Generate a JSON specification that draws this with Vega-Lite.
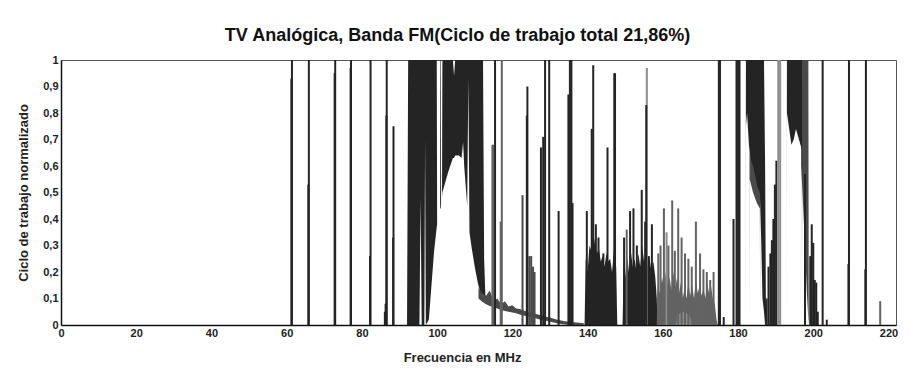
{
  "$schema": "https://vega.github.io/schema/vega-lite/v6.json",
  "autosize": {"type": "none"},
  "padding": {"left": 61, "top": 60, "right": 21, "bottom": 47},
  "width": 835,
  "height": 265,
  "background": "white",
  "config": {
    "font": "Liberation Sans",
    "view": {"stroke": "#555555", "strokeWidth": 1},
    "locale": {"number": {"decimal": ",", "thousands": ".", "grouping": [3], "currency": ["", " €"]}}
  },
  "title": {
    "text": "TV Analógica, Banda FM(Ciclo de trabajo total 21,86%)",
    "font": "Liberation Sans",
    "fontSize": 18,
    "fontWeight": "bold",
    "color": "#111111",
    "anchor": "middle",
    "baseline": "alphabetic",
    "offset": -5,
    "dx": -21
  },
  "datasets": {
    "bands": [
      {"g":"m1a","s":"A","f":92.0,"hi":0,"lo":0},
      {"g":"m1a","s":"A","f":92.3,"hi":1,"lo":0},
      {"g":"m1a","s":"A","f":95.3,"hi":1,"lo":0},
      {"g":"m1a","s":"A","f":95.6,"hi":1,"lo":0.48},
      {"g":"m1a","s":"A","f":95.9,"hi":1,"lo":0},
      {"g":"m1a","s":"A","f":96.6,"hi":1,"lo":0},
      {"g":"m1a","s":"A","f":96.8,"hi":1,"lo":0.7},
      {"g":"m1a","s":"A","f":97.0,"hi":1,"lo":0},
      {"g":"m1a","s":"A","f":97.8,"hi":1,"lo":0.02},
      {"g":"m1a","s":"A","f":98.5,"hi":1,"lo":0.15},
      {"g":"m1a","s":"A","f":99.2,"hi":1,"lo":0.28},
      {"g":"m1a","s":"A","f":99.9,"hi":1,"lo":0.37},
      {"g":"m1a","s":"A","f":100.0,"hi":0.38,"lo":0.38},

      {"g":"m1s","s":"A","f":100.8,"hi":0.46,"lo":0.46},
      {"g":"m1s","s":"A","f":100.85,"hi":1,"lo":0.44},
      {"g":"m1s","s":"A","f":101.0,"hi":1,"lo":0.44},
      {"g":"m1s","s":"A","f":101.05,"hi":0.45,"lo":0.45},

      {"g":"m1b","s":"A","f":101.3,"hi":0.48,"lo":0.48},
      {"g":"m1b","s":"A","f":101.4,"hi":1,"lo":0.5},
      {"g":"m1b","s":"A","f":102.0,"hi":1,"lo":0.53},
      {"g":"m1b","s":"A","f":103.0,"hi":1,"lo":0.58},
      {"g":"m1b","s":"A","f":104.2,"hi":1,"lo":0.63},
      {"g":"m1b","s":"A","f":104.5,"hi":0.94,"lo":0.63},
      {"g":"m1b","s":"A","f":104.8,"hi":1,"lo":0.64},
      {"g":"m1b","s":"A","f":105.8,"hi":1,"lo":0.64},
      {"g":"m1b","s":"A","f":106.5,"hi":1,"lo":0.63},
      {"g":"m1b","s":"A","f":106.9,"hi":1,"lo":0.69},
      {"g":"m1b","s":"A","f":107.2,"hi":1,"lo":0.6},
      {"g":"m1b","s":"A","f":108.0,"hi":1,"lo":0.45},
      {"g":"m1b","s":"A","f":108.3,"hi":1,"lo":0.93},
      {"g":"m1b","s":"A","f":108.6,"hi":1,"lo":0.35},
      {"g":"m1b","s":"A","f":109.2,"hi":1,"lo":0.29},
      {"g":"m1b","s":"A","f":110.0,"hi":1,"lo":0.22},
      {"g":"m1b","s":"A","f":110.8,"hi":1,"lo":0.16},
      {"g":"m1b","s":"A","f":111.5,"hi":1,"lo":0.12},
      {"g":"m1b","s":"A","f":112.2,"hi":1,"lo":0.1},
      {"g":"m1b","s":"A","f":112.5,"hi":0.25,"lo":0.09},
      {"g":"m1b","s":"A","f":112.8,"hi":0.12,"lo":0.08},
      {"g":"m1b","s":"A","f":112.9,"hi":0.09,"lo":0.09},

      {"g":"t1","s":"B","f":111.0,"hi":0.14,"lo":0.1},
      {"g":"t1","s":"B","f":112.0,"hi":0.12,"lo":0.088},
      {"g":"t1","s":"B","f":113.0,"hi":0.11,"lo":0.078},
      {"g":"t1","s":"B","f":114.0,"hi":0.13,"lo":0.072},
      {"g":"t1","s":"B","f":115.0,"hi":0.09,"lo":0.067},
      {"g":"t1","s":"B","f":116.0,"hi":0.1,"lo":0.062},
      {"g":"t1","s":"B","f":117.0,"hi":0.078,"lo":0.057},
      {"g":"t1","s":"B","f":118.0,"hi":0.09,"lo":0.053},
      {"g":"t1","s":"B","f":119.0,"hi":0.07,"lo":0.05},
      {"g":"t1","s":"B","f":120.0,"hi":0.075,"lo":0.047},
      {"g":"t1","s":"B","f":121.0,"hi":0.062,"lo":0.044},
      {"g":"t1","s":"B","f":122.0,"hi":0.06,"lo":0.04},
      {"g":"t1","s":"B","f":123.0,"hi":0.055,"lo":0.036},
      {"g":"t1","s":"B","f":124.0,"hi":0.05,"lo":0.032},
      {"g":"t1","s":"B","f":125.0,"hi":0.047,"lo":0.029},
      {"g":"t1","s":"B","f":126.0,"hi":0.043,"lo":0.026},
      {"g":"t1","s":"B","f":127.0,"hi":0.039,"lo":0.022},
      {"g":"t1","s":"B","f":128.0,"hi":0.035,"lo":0.019},
      {"g":"t1","s":"B","f":129.0,"hi":0.031,"lo":0.016},
      {"g":"t1","s":"B","f":130.0,"hi":0.028,"lo":0.012},
      {"g":"t1","s":"B","f":131.0,"hi":0.024,"lo":0.009},
      {"g":"t1","s":"B","f":132.0,"hi":0.02,"lo":0.006},
      {"g":"t1","s":"B","f":133.0,"hi":0.017,"lo":0.004},
      {"g":"t1","s":"B","f":134.0,"hi":0.014,"lo":0.002},
      {"g":"t1","s":"B","f":135.0,"hi":0.012,"lo":0},
      {"g":"t1","s":"B","f":137.0,"hi":0.009,"lo":0},
      {"g":"t1","s":"B","f":139.0,"hi":0.007,"lo":0},

      {"g":"m2","s":"A","f":139.2,"hi":0,"lo":0},
      {"g":"m2","s":"A","f":139.5,"hi":0.25,"lo":0},
      {"g":"m2","s":"A","f":140.0,"hi":0.2,"lo":0},
      {"g":"m2","s":"A","f":140.5,"hi":0.3,"lo":0},
      {"g":"m2","s":"A","f":141.0,"hi":0.28,"lo":0},
      {"g":"m2","s":"A","f":141.5,"hi":0.35,"lo":0},
      {"g":"m2","s":"A","f":142.0,"hi":0.3,"lo":0},
      {"g":"m2","s":"A","f":142.5,"hi":0.27,"lo":0},
      {"g":"m2","s":"A","f":143.0,"hi":0.29,"lo":0},
      {"g":"m2","s":"A","f":143.5,"hi":0.24,"lo":0},
      {"g":"m2","s":"A","f":144.0,"hi":0.26,"lo":0},
      {"g":"m2","s":"A","f":144.5,"hi":0.22,"lo":0},
      {"g":"m2","s":"A","f":145.0,"hi":0.27,"lo":0},
      {"g":"m2","s":"A","f":145.5,"hi":0.24,"lo":0},
      {"g":"m2","s":"A","f":146.0,"hi":0.25,"lo":0},
      {"g":"m2","s":"A","f":146.5,"hi":0.2,"lo":0},
      {"g":"m2","s":"A","f":147.0,"hi":0.28,"lo":0},
      {"g":"m2","s":"A","f":147.6,"hi":0.22,"lo":0},
      {"g":"m2","s":"A","f":147.9,"hi":0,"lo":0},

      {"g":"m3","s":"A","f":149.3,"hi":0,"lo":0},
      {"g":"m3","s":"A","f":149.6,"hi":0.22,"lo":0},
      {"g":"m3","s":"A","f":150.0,"hi":0.18,"lo":0},
      {"g":"m3","s":"A","f":150.5,"hi":0.26,"lo":0},
      {"g":"m3","s":"A","f":151.0,"hi":0.2,"lo":0},
      {"g":"m3","s":"A","f":151.5,"hi":0.28,"lo":0},
      {"g":"m3","s":"A","f":152.0,"hi":0.22,"lo":0},
      {"g":"m3","s":"A","f":152.5,"hi":0.25,"lo":0},
      {"g":"m3","s":"A","f":153.0,"hi":0.2,"lo":0},
      {"g":"m3","s":"A","f":153.5,"hi":0.27,"lo":0},
      {"g":"m3","s":"A","f":154.0,"hi":0.22,"lo":0},
      {"g":"m3","s":"A","f":154.5,"hi":0.3,"lo":0},
      {"g":"m3","s":"A","f":155.0,"hi":0.24,"lo":0},
      {"g":"m3","s":"A","f":155.5,"hi":0.28,"lo":0},
      {"g":"m3","s":"A","f":156.0,"hi":0.22,"lo":0},
      {"g":"m3","s":"A","f":156.5,"hi":0.25,"lo":0},
      {"g":"m3","s":"A","f":157.0,"hi":0.2,"lo":0},
      {"g":"m3","s":"A","f":157.5,"hi":0.24,"lo":0},
      {"g":"m3","s":"A","f":158.0,"hi":0.18,"lo":0},
      {"g":"m3","s":"A","f":158.4,"hi":0.1,"lo":0},
      {"g":"m3","s":"A","f":158.6,"hi":0,"lo":0},

      {"g":"m4","s":"C","f":158.4,"hi":0,"lo":0},
      {"g":"m4","s":"C","f":158.6,"hi":0.15,"lo":0},
      {"g":"m4","s":"C","f":159.2,"hi":0.12,"lo":0},
      {"g":"m4","s":"C","f":159.8,"hi":0.18,"lo":0},
      {"g":"m4","s":"C","f":160.3,"hi":0.14,"lo":0},
      {"g":"m4","s":"C","f":160.8,"hi":0.2,"lo":0},
      {"g":"m4","s":"C","f":161.3,"hi":0.15,"lo":0},
      {"g":"m4","s":"C","f":161.8,"hi":0.18,"lo":0},
      {"g":"m4","s":"C","f":162.3,"hi":0.13,"lo":0},
      {"g":"m4","s":"C","f":162.8,"hi":0.2,"lo":0},
      {"g":"m4","s":"C","f":163.3,"hi":0.14,"lo":0},
      {"g":"m4","s":"C","f":163.8,"hi":0.18,"lo":0},
      {"g":"m4","s":"C","f":164.3,"hi":0.12,"lo":0},
      {"g":"m4","s":"C","f":164.8,"hi":0.16,"lo":0},
      {"g":"m4","s":"C","f":165.3,"hi":0.1,"lo":0},
      {"g":"m4","s":"C","f":165.8,"hi":0.14,"lo":0},
      {"g":"m4","s":"C","f":166.3,"hi":0.1,"lo":0},
      {"g":"m4","s":"C","f":166.8,"hi":0.16,"lo":0},
      {"g":"m4","s":"C","f":167.3,"hi":0.11,"lo":0},
      {"g":"m4","s":"C","f":167.8,"hi":0.15,"lo":0},
      {"g":"m4","s":"C","f":168.3,"hi":0.1,"lo":0},
      {"g":"m4","s":"C","f":168.8,"hi":0.17,"lo":0},
      {"g":"m4","s":"C","f":169.3,"hi":0.12,"lo":0},
      {"g":"m4","s":"C","f":169.8,"hi":0.15,"lo":0},
      {"g":"m4","s":"C","f":170.3,"hi":0.11,"lo":0},
      {"g":"m4","s":"C","f":170.8,"hi":0.14,"lo":0},
      {"g":"m4","s":"C","f":171.3,"hi":0.1,"lo":0},
      {"g":"m4","s":"C","f":171.8,"hi":0.16,"lo":0},
      {"g":"m4","s":"C","f":172.3,"hi":0.12,"lo":0},
      {"g":"m4","s":"C","f":172.8,"hi":0.15,"lo":0},
      {"g":"m4","s":"C","f":173.3,"hi":0.1,"lo":0},
      {"g":"m4","s":"C","f":173.8,"hi":0.08,"lo":0},
      {"g":"m4","s":"C","f":174.3,"hi":0.02,"lo":0},
      {"g":"m4","s":"C","f":174.6,"hi":0,"lo":0},

      {"g":"m7","s":"D","f":163.5,"hi":0,"lo":0},
      {"g":"m7","s":"D","f":164.0,"hi":0.04,"lo":0},
      {"g":"m7","s":"D","f":165.5,"hi":0.05,"lo":0},
      {"g":"m7","s":"D","f":167.0,"hi":0.04,"lo":0},
      {"g":"m7","s":"D","f":168.0,"hi":0,"lo":0},

      {"g":"m5b","s":"B","f":183.0,"hi":0,"lo":0},
      {"g":"m5b","s":"B","f":183.1,"hi":1,"lo":0.55},
      {"g":"m5b","s":"B","f":184.0,"hi":1,"lo":0.5},
      {"g":"m5b","s":"B","f":185.0,"hi":1,"lo":0.46},
      {"g":"m5b","s":"B","f":185.8,"hi":1,"lo":0.44},
      {"g":"m5b","s":"B","f":185.9,"hi":0,"lo":0},

      {"g":"m5","s":"A","f":182.0,"hi":0,"lo":0},
      {"g":"m5","s":"A","f":182.1,"hi":1,"lo":0.75},
      {"g":"m5","s":"A","f":182.4,"hi":1,"lo":0.8},
      {"g":"m5","s":"A","f":182.9,"hi":1,"lo":0.68},
      {"g":"m5","s":"A","f":183.5,"hi":1,"lo":0.62},
      {"g":"m5","s":"A","f":184.0,"hi":1,"lo":0.6},
      {"g":"m5","s":"A","f":184.6,"hi":1,"lo":0.56},
      {"g":"m5","s":"A","f":185.2,"hi":1,"lo":0.52},
      {"g":"m5","s":"A","f":185.8,"hi":1,"lo":0.5},
      {"g":"m5","s":"A","f":186.2,"hi":1,"lo":0.3},
      {"g":"m5","s":"A","f":186.5,"hi":1,"lo":0.1},
      {"g":"m5","s":"A","f":186.9,"hi":1,"lo":0.05},
      {"g":"m5","s":"A","f":187.2,"hi":0.6,"lo":0},
      {"g":"m5","s":"A","f":187.4,"hi":0.1,"lo":0},
      {"g":"m5","s":"A","f":187.5,"hi":0,"lo":0},

      {"g":"m6b","s":"B","f":196.7,"hi":0,"lo":0},
      {"g":"m6b","s":"B","f":196.8,"hi":1,"lo":0.6},
      {"g":"m6b","s":"B","f":197.3,"hi":1,"lo":0.45},
      {"g":"m6b","s":"B","f":197.8,"hi":1,"lo":0.3},
      {"g":"m6b","s":"B","f":198.3,"hi":1,"lo":0.12},
      {"g":"m6b","s":"B","f":198.7,"hi":1,"lo":0.02},
      {"g":"m6b","s":"B","f":198.8,"hi":0,"lo":0},

      {"g":"m6a","s":"A","f":192.9,"hi":0,"lo":0},
      {"g":"m6a","s":"A","f":193.0,"hi":1,"lo":0.8},
      {"g":"m6a","s":"A","f":193.6,"hi":1,"lo":0.74},
      {"g":"m6a","s":"A","f":194.2,"hi":1,"lo":0.68},
      {"g":"m6a","s":"A","f":194.8,"hi":1,"lo":0.7},
      {"g":"m6a","s":"A","f":195.4,"hi":1,"lo":0.74},
      {"g":"m6a","s":"A","f":196.0,"hi":1,"lo":0.71},
      {"g":"m6a","s":"A","f":196.6,"hi":1,"lo":0.68},
      {"g":"m6a","s":"A","f":197.0,"hi":1,"lo":0.66},
      {"g":"m6a","s":"A","f":197.1,"hi":0,"lo":0}
    ],
    "spikes": [
      {"s":"A","f":61.4,"top":1},{"s":"A","f":61.25,"top":0.93},
      {"s":"A","f":65.9,"top":1},{"s":"A","f":65.75,"top":0.53},
      {"s":"A","f":72.9,"top":1},{"s":"A","f":72.75,"top":0.95},
      {"s":"A","f":77.1,"top":1},{"s":"A","f":77.0,"top":0.97},
      {"s":"A","f":82.3,"top":1},{"s":"A","f":82.15,"top":0.26},
      {"s":"A","f":86.6,"top":1},{"s":"A","f":86.5,"top":0.79},
      {"s":"A","f":86.1,"top":0.05},{"s":"A","f":86.3,"top":0.08},
      {"s":"A","f":88.4,"top":0.75},{"s":"A","f":88.3,"top":0.33},
      {"s":"C","f":114.7,"top":0.68},{"s":"C","f":114.9,"top":0.68},
      {"s":"A","f":115.4,"top":1},
      {"s":"C","f":116.9,"top":0.39},
      {"s":"C","f":117.2,"top":1},
      {"s":"B","f":122.7,"top":0.49},
      {"s":"A","f":123.85,"top":0.79},{"s":"A","f":124.0,"top":0.9},
      {"s":"B","f":124.5,"top":0.26},{"s":"B","f":125.0,"top":0.26},
      {"s":"B","f":125.5,"top":0.22},{"s":"B","f":125.9,"top":0.2},
      {"s":"A","f":127.6,"top":0.67},{"s":"A","f":128.2,"top":0.71},
      {"s":"A","f":128.7,"top":1},{"s":"A","f":129.8,"top":1},
      {"s":"A","f":132.3,"top":0.43},
      {"s":"A","f":134.9,"top":0.87},{"s":"A","f":135.3,"top":1},
      {"s":"A","f":135.7,"top":1},{"s":"A","f":136.0,"top":0.46},
      {"s":"A","f":139.8,"top":0.43},{"s":"A","f":141.1,"top":0.74},
      {"s":"A","f":141.5,"top":0.98},{"s":"A","f":142.2,"top":0.38},
      {"s":"A","f":142.9,"top":0.33},{"s":"A","f":144.2,"top":0.27},
      {"s":"A","f":145.3,"top":0.67},{"s":"A","f":147.1,"top":0.95},
      {"s":"A","f":147.3,"top":0.95},
      {"s":"A","f":149.7,"top":0.33},{"s":"C","f":150.4,"top":0.36},
      {"s":"A","f":151.3,"top":0.43},{"s":"A","f":152.2,"top":0.44},
      {"s":"A","f":153.1,"top":0.3},{"s":"A","f":154.4,"top":0.51},
      {"s":"A","f":155.3,"top":0.39},{"s":"D","f":155.75,"top":0.97},
      {"s":"A","f":155.6,"top":0.83},{"s":"A","f":156.3,"top":0.26},
      {"s":"A","f":157.1,"top":0.38},
      {"s":"C","f":158.8,"top":0.27},{"s":"C","f":159.4,"top":0.3},
      {"s":"C","f":160.3,"top":0.44},{"s":"D","f":161.0,"top":0.35},
      {"s":"C","f":161.5,"top":0.3},{"s":"C","f":162.5,"top":0.47},
      {"s":"C","f":163.2,"top":0.28},{"s":"C","f":164.1,"top":0.44},
      {"s":"C","f":165.0,"top":0.33},{"s":"C","f":165.9,"top":0.27},
      {"s":"C","f":166.8,"top":0.25},{"s":"C","f":167.7,"top":0.22},
      {"s":"C","f":168.8,"top":0.39},{"s":"C","f":169.9,"top":0.27},
      {"s":"C","f":170.8,"top":0.21},{"s":"C","f":171.7,"top":0.2},
      {"s":"C","f":172.6,"top":0.17},{"s":"C","f":173.5,"top":0.2},
      {"s":"A","f":174.9,"top":1},{"s":"A","f":175.2,"top":1},
      {"s":"A","f":176.2,"top":0.03},{"s":"A","f":178.8,"top":0.4},
      {"s":"A","f":179.6,"top":1},{"s":"A","f":180.0,"top":1},
      {"s":"A","f":180.4,"top":1},
      {"s":"A","f":187.6,"top":0.1},{"s":"A","f":188.1,"top":0.22},
      {"s":"A","f":188.6,"top":0.27},{"s":"A","f":189.0,"top":0.32},
      {"s":"A","f":189.4,"top":0.4},{"s":"A","f":189.8,"top":0.53},
      {"s":"A","f":190.2,"top":0.62},
      {"s":"D","f":190.7,"top":1},{"s":"D","f":191.2,"top":1},
      {"s":"A","f":197.8,"top":0.57},{"s":"A","f":199.2,"top":0.26},
      {"s":"A","f":199.6,"top":0.38},{"s":"A","f":200.0,"top":0.31},
      {"s":"A","f":200.4,"top":0.17},{"s":"A","f":200.8,"top":0.16},
      {"s":"A","f":201.2,"top":0.05},{"s":"A","f":202.5,"top":1},
      {"s":"A","f":203.6,"top":0.02},
      {"s":"A","f":209.5,"top":1},{"s":"A","f":209.35,"top":0.23},
      {"s":"A","f":214.0,"top":1},{"s":"A","f":213.85,"top":0.21},
      {"s":"C","f":217.8,"top":0.09}
    ]
  },
  "layer": [
    {
      "data": {"name": "bands"},
      "mark": {"type": "area", "interpolate": "linear", "opacity": 1},
      "encoding": {
        "x": {"field": "f", "type": "quantitative"},
        "y": {"field": "hi", "type": "quantitative"},
        "y2": {"field": "lo"},
        "color": {"field": "s", "type": "nominal", "legend": null},
        "detail": {"field": "g"}
      }
    },
    {
      "data": {"name": "spikes"},
      "mark": {"type": "rule", "strokeWidth": 2},
      "encoding": {
        "x": {"field": "f", "type": "quantitative"},
        "y": {"field": "top", "type": "quantitative"},
        "y2": {"datum": 0},
        "color": {"field": "s", "type": "nominal", "legend": null}
      }
    }
  ],
  "resolve": {"scale": {"color": "shared"}},
  "encoding": {
    "x": {
      "field": "f", "type": "quantitative",
      "scale": {"domain": [0, 222], "nice": false, "zero": true},
      "axis": {
        "title": "Frecuencia en MHz",
        "values": [0, 20, 40, 60, 80, 100, 120, 140, 160, 180, 200, 220],
        "grid": false, "ticks": false,
        "domainColor": "#111111", "domainWidth": 1.5,
        "labelFont": "Liberation Sans", "labelFontSize": 11, "labelFontWeight": "bold", "labelColor": "#222222",
        "labelPadding": 2, "labelFlush": false, "labelOverlap": false,
        "titleFont": "Liberation Sans", "titleFontSize": 13, "titleFontWeight": "bold", "titleColor": "#222222",
        "titleX": 401, "titleY": 32, "titleBaseline": "middle", "titleAnchor": null
      }
    },
    "y": {
      "type": "quantitative",
      "scale": {"domain": [0, 1], "nice": false},
      "axis": {
        "title": "Ciclo de trabajo normalizado",
        "values": [0, 0.1, 0.2, 0.3, 0.4, 0.5, 0.6, 0.7, 0.8, 0.9, 1],
        "format": ".1~f",
        "grid": false, "ticks": false,
        "domainColor": "#111111", "domainWidth": 1.5,
        "labelFont": "Liberation Sans", "labelFontSize": 11, "labelFontWeight": "bold", "labelColor": "#222222",
        "labelPadding": 3, "labelFlush": false, "labelOverlap": false,
        "titleFont": "Liberation Sans", "titleFontSize": 13, "titleFontWeight": "bold", "titleColor": "#222222",
        "titleX": -38, "titleY": 132.5, "titleAngle": -90, "titleAlign": "center", "titleBaseline": "middle"
      }
    },
    "color": {
      "field": "s", "type": "nominal",
      "scale": {"domain": ["A", "B", "C", "D"], "range": ["#242424", "#4a4a4a", "#636363", "#8c8c8c"]},
      "legend": null
    }
  }
}
